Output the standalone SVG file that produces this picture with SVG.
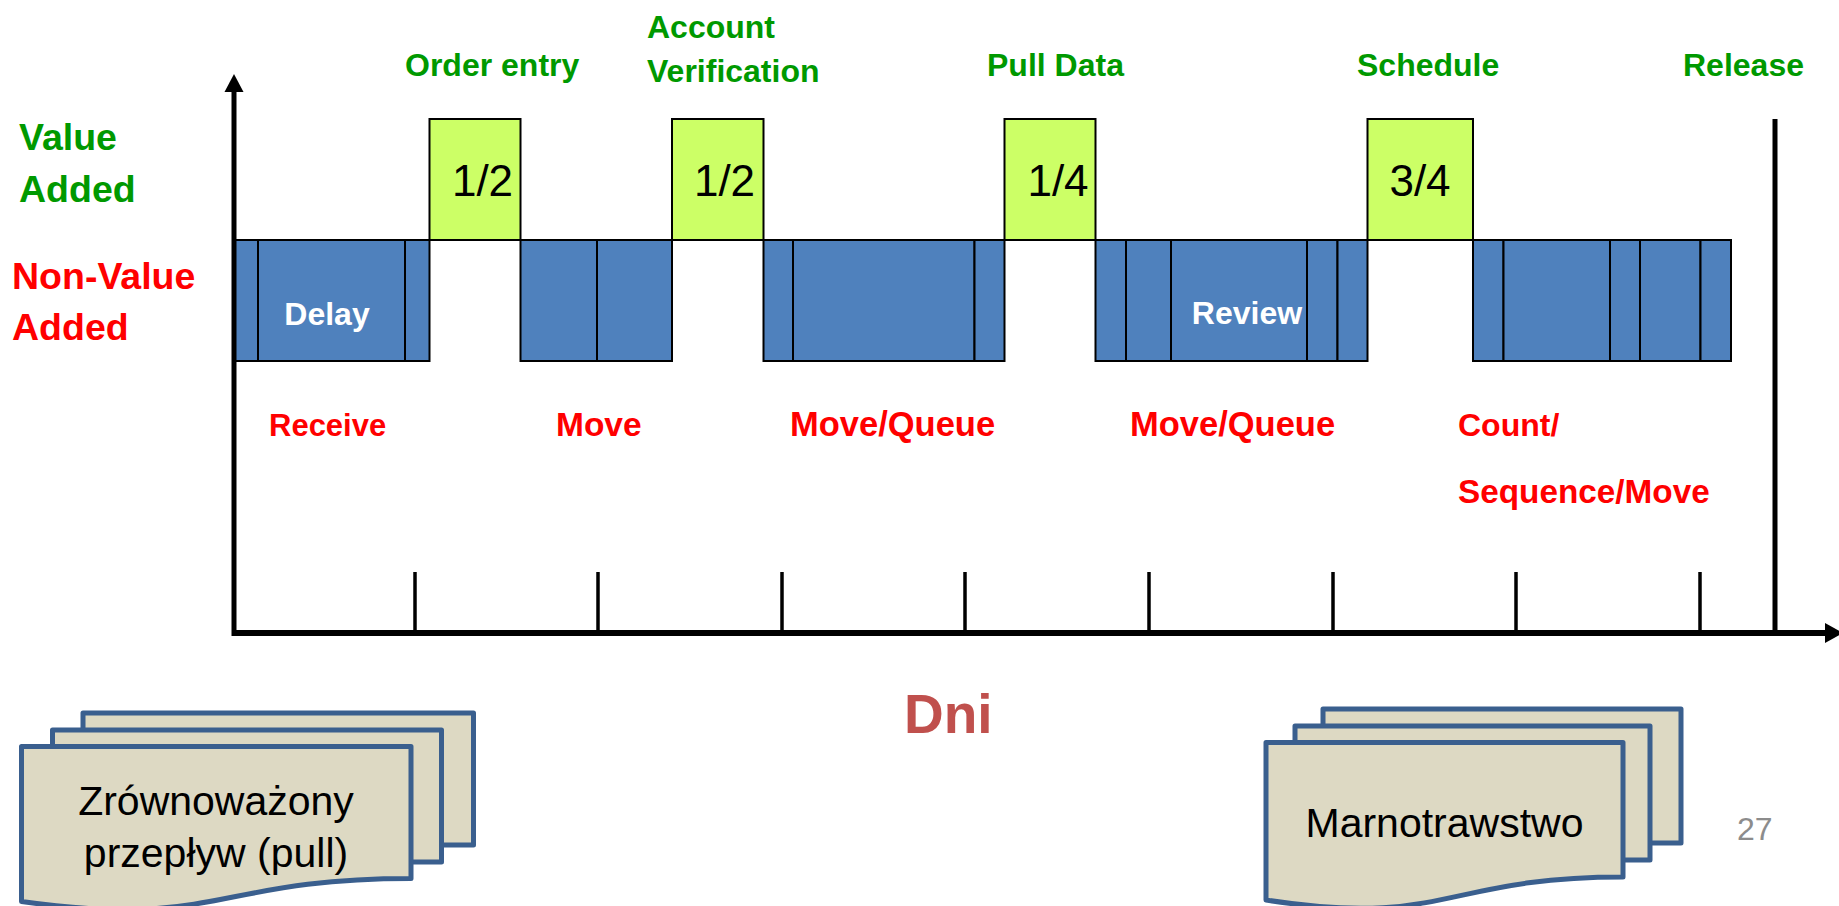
<svg xmlns="http://www.w3.org/2000/svg" width="1839" height="906" viewBox="0 0 1839 906">
  <style>
    .lbl { font-family: "Liberation Sans", Arial, sans-serif; font-weight: bold; }
    .va { fill: #009900; }
    .nva { fill: #FF0000; }
    .big { font-size: 37.5px; }
    .mid { font-size: 32px; }
    .num { font-family: "Liberation Sans", Arial, sans-serif; font-size: 44px; fill: #000; text-anchor: middle; }
    .inbar { fill: #FFFFFF; font-size: 32px; text-anchor: middle; }
    .blue { fill: #4F81BD; stroke: #000; stroke-width: 2; }
    .lime { fill: #CCFF66; stroke: #000; stroke-width: 2; }
    .axis { stroke: #000; fill: none; }
    .tick { stroke: #000; stroke-width: 3.5; }
    .doc { fill: #DDD9C3; stroke: #3A5F8E; stroke-width: 5; stroke-linejoin: round; }
    .doctext { font-family: "Liberation Sans", Arial, sans-serif; font-size: 41px; fill: #000; text-anchor: middle; }
  </style>

  <rect width="1839" height="906" fill="#FFFFFF"/>

  <!-- row captions -->
  <g id="row-labels" class="lbl big">
    <text class="va" x="19" y="150">Value</text>
    <text class="va" x="19" y="202">Added</text>
    <text class="nva" x="12" y="289">Non-Value</text>
    <text class="nva" x="12" y="340">Added</text>
  </g>

  <!-- value-added steps -->
  <g id="order-entry">
    <rect class="lime" x="429.5" y="119" width="91" height="121"/>
    <text class="num" x="482.5" y="196">1/2</text>
    <text class="lbl mid va" x="405" y="76">Order entry</text>
  </g>
  <g id="account-verification">
    <rect class="lime" x="672" y="119" width="91.5" height="121"/>
    <text class="num" x="724.5" y="196">1/2</text>
    <text class="lbl mid va" x="647" y="38">Account</text>
    <text class="lbl mid va" x="647" y="82">Verification</text>
  </g>
  <g id="pull-data">
    <rect class="lime" x="1004.5" y="119" width="91" height="121"/>
    <text class="num" x="1058" y="196">1/4</text>
    <text class="lbl mid va" x="987" y="76">Pull Data</text>
  </g>
  <g id="schedule">
    <rect class="lime" x="1367.5" y="119" width="105.5" height="121"/>
    <text class="num" x="1420" y="196">3/4</text>
    <text class="lbl mid va" x="1357" y="76">Schedule</text>
  </g>
  <g id="release">
    <text class="lbl mid va" x="1683" y="76">Release</text>
  </g>

  <!-- non-value-added segments -->
  <g id="receive">
    <rect class="blue" x="234" y="240" width="24" height="121"/>
    <rect class="blue" x="258" y="240" width="147" height="121"/>
    <rect class="blue" x="405" y="240" width="24.5" height="121"/>
    <text class="lbl inbar" x="327" y="325">Delay</text>
    <text class="lbl nva" x="269" y="435.5" font-size="31">Receive</text>
  </g>
  <g id="move">
    <rect class="blue" x="520.5" y="240" width="76.5" height="121"/>
    <rect class="blue" x="597" y="240" width="75" height="121"/>
    <text class="lbl nva" x="556" y="435.5" font-size="33.5">Move</text>
  </g>
  <g id="move-queue-1">
    <rect class="blue" x="763.5" y="240" width="29.5" height="121"/>
    <rect class="blue" x="793" y="240" width="181.5" height="121"/>
    <rect class="blue" x="974.5" y="240" width="30" height="121"/>
    <text class="lbl nva" x="790" y="435.5" font-size="34.5">Move/Queue</text>
  </g>
  <g id="move-queue-2">
    <rect class="blue" x="1095.5" y="240" width="30.5" height="121"/>
    <rect class="blue" x="1126" y="240" width="45" height="121"/>
    <rect class="blue" x="1171" y="240" width="136" height="121"/>
    <rect class="blue" x="1307" y="240" width="30.5" height="121"/>
    <rect class="blue" x="1337.5" y="240" width="30" height="121"/>
    <text class="lbl inbar" x="1247" y="324">Review</text>
    <text class="lbl nva" x="1130" y="435.5" font-size="34.5">Move/Queue</text>
  </g>
  <g id="count-sequence-move">
    <rect class="blue" x="1473" y="240" width="30.5" height="121"/>
    <rect class="blue" x="1503.5" y="240" width="106.5" height="121"/>
    <rect class="blue" x="1610" y="240" width="30" height="121"/>
    <rect class="blue" x="1640" y="240" width="60.5" height="121"/>
    <rect class="blue" x="1700.5" y="240" width="30.5" height="121"/>
    <text class="lbl nva" x="1458" y="435.5" font-size="32">Count/</text>
    <text class="lbl nva" x="1458" y="503" font-size="33.3">Sequence/Move</text>
  </g>

  <!-- axes, day ticks and release marker -->
  <g id="connectors">
    <line class="axis" x1="234" y1="636" x2="234" y2="90" stroke-width="5"/>
    <polygon points="224.5,92 234,74 243.5,92" fill="#000"/>
    <line class="axis" x1="232" y1="633" x2="1827" y2="633" stroke-width="6"/>
    <polygon points="1825,623 1843,633 1825,643" fill="#000"/>
    <line class="tick" x1="415" y1="572" x2="415" y2="633"/>
    <line class="tick" x1="598" y1="572" x2="598" y2="633"/>
    <line class="tick" x1="782" y1="572" x2="782" y2="633"/>
    <line class="tick" x1="965" y1="572" x2="965" y2="633"/>
    <line class="tick" x1="1149" y1="572" x2="1149" y2="633"/>
    <line class="tick" x1="1333" y1="572" x2="1333" y2="633"/>
    <line class="tick" x1="1516" y1="572" x2="1516" y2="633"/>
    <line class="tick" x1="1700" y1="572" x2="1700" y2="633"/>
    <line class="axis" x1="1775" y1="119" x2="1775" y2="633" stroke-width="5"/>
  </g>

  <g id="axis-title">
    <text class="lbl" x="904" y="733" font-size="55" fill="#C0504D">Dni</text>
  </g>

  <!-- multi-document shapes -->
  <g id="balanced-flow">
    <rect class="doc" x="83" y="713" width="390.5" height="132"/>
    <rect class="doc" x="52.5" y="730" width="389" height="132"/>
    <path class="doc" d="M21.5,746.5 H411 V878.5 C216,878.5 216,929 21.5,901.5 Z"/>
    <text class="doctext" x="216" y="815">Zrównoważony</text>
    <text class="doctext" x="216" y="867">przepływ (pull)</text>
  </g>
  <g id="waste">
    <rect class="doc" x="1323" y="709" width="358" height="134"/>
    <rect class="doc" x="1295" y="726" width="355" height="134"/>
    <path class="doc" d="M1266,742.5 H1623 V877 C1444.5,877 1444.5,928 1266,900 Z"/>
    <text class="doctext" x="1444.5" y="837" font-size="42">Marnotrawstwo</text>
  </g>

  <g id="page-number">
    <text x="1737" y="840" font-family="Liberation Sans, Arial, sans-serif" font-size="32" fill="#8C8C8C">27</text>
  </g>
</svg>
